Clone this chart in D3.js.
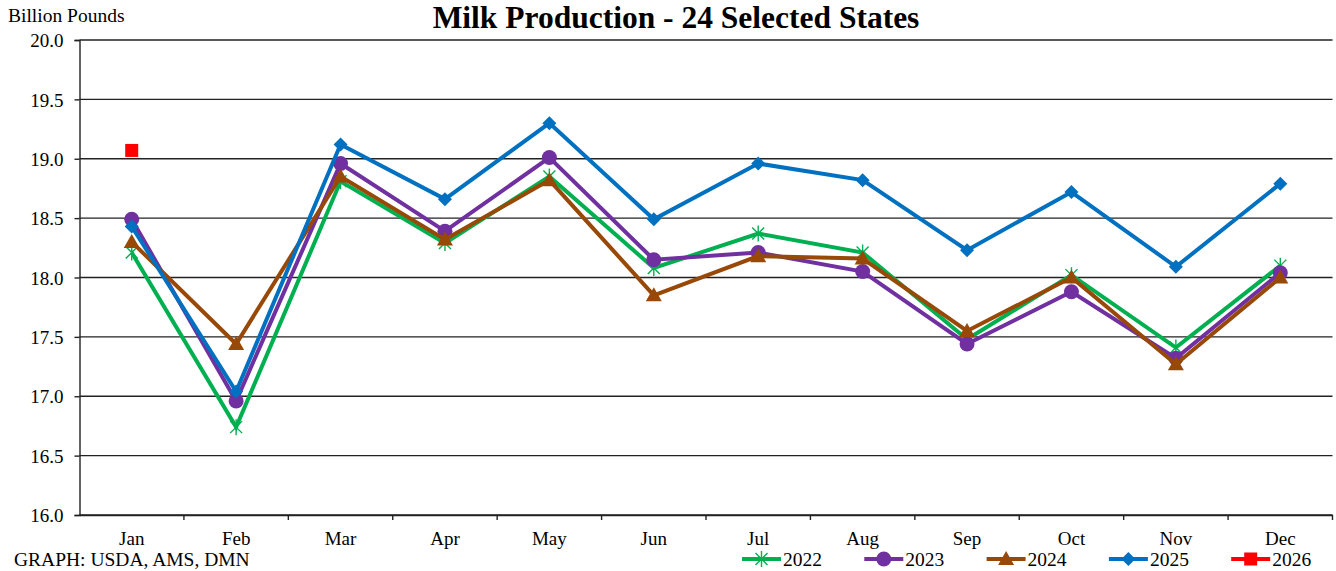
<!DOCTYPE html>
<html><head><meta charset="utf-8">
<script src="https://cdn.jsdelivr.net/npm/d3@7"></script>
<style>body{margin:0;background:#fff}svg{display:block}</style>
</head><body>
<svg id="c" width="1336" height="571"></svg>
<script>
const months = ["Jan","Feb","Mar","Apr","May","Jun","Jul","Aug","Sep","Oct","Nov","Dec"];
const yTicks = [16.0,16.5,17.0,17.5,18.0,18.5,19.0,19.5,20.0];
const v2022 = [18.21,16.74,18.81,18.29,18.85,18.08,18.37,18.21,17.48,18.02,17.41,18.10];
const v2023 = [18.49,16.96,18.96,18.39,19.01,18.15,18.21,18.05,17.44,17.88,17.32,18.04];
const v2024 = [18.30,17.44,18.85,18.32,18.82,17.85,18.18,18.16,17.55,18.00,17.27,18.00];
const v2025 = [18.43,17.04,19.12,18.66,19.30,18.49,18.96,18.82,18.23,18.72,18.09,18.79];
const v2026 = [19.07];

const series = [
  {name:"2022", values:v2022, color:"#00B050", marker:"star"},
  {name:"2023", values:v2023, color:"#7030A0", marker:"circle"},
  {name:"2024", values:v2024, color:"#984807", marker:"triangle"},
  {name:"2025", values:v2025, color:"#0070C0", marker:"diamond"},
  {name:"2026", values:v2026, color:"#FF0000", marker:"square"}
];

const svg = d3.select("#c");
const L=79.5, R=1332.5, T=40, B=515;
const x = d3.scaleBand().domain(months).range([L,R]);
const y = d3.scaleLinear().domain([16,20]).range([B,T]);
const font = "Liberation Serif, Times New Roman, serif";

// gridlines
svg.append("g").selectAll("line").data(yTicks).join("line")
  .attr("x1",L).attr("x2",R).attr("y1",d=>y(d)).attr("y2",d=>y(d))
  .attr("stroke","#222").attr("stroke-width",1.4);

// y axis
const ya = svg.append("g").attr("transform",`translate(${L},0)`)
  .call(d3.axisLeft(y).tickValues(yTicks).tickFormat(d3.format(".1f")).tickSize(5).tickPadding(11));
ya.attr("font-family",font).attr("font-size",19);
ya.select(".domain").attr("stroke","#222").attr("stroke-width",1.4);
ya.selectAll(".tick line").attr("stroke","#222").attr("stroke-width",1.4);
ya.selectAll("text").attr("fill","#000").attr("font-family",font).attr("dy","0.35em");

// x axis
const xa = svg.append("g").attr("transform",`translate(0,${B})`)
  .call(d3.axisBottom(x).tickSize(0).tickPadding(0));
xa.attr("font-family",font).attr("font-size",19);
xa.select(".domain").attr("stroke","#222").attr("stroke-width",1.4);
xa.selectAll("text").attr("fill","#000").attr("y",30).attr("dy",0);
// boundary tick marks
const bounds = months.map(m=>x(m)).concat([R]);
svg.append("g").selectAll("line").data(bounds.slice(1)).join("line")
  .attr("x1",d=>d).attr("x2",d=>d).attr("y1",B).attr("y2",B+5)
  .attr("stroke","#222").attr("stroke-width",1.4);

const cx = i => x(months[i]) + x.bandwidth()/2;

function drawMarker(g, type, px, py, color){
  if(type==="circle"){
    g.append("circle").attr("cx",px).attr("cy",py).attr("r",7.5).attr("fill",color);
  } else if(type==="triangle"){
    g.append("path").attr("d",`M0,-8L8,6L-8,6Z`).attr("transform",`translate(${px},${py})`).attr("fill",color);
  } else if(type==="diamond"){
    g.append("path").attr("d",`M0,-7L7,0L0,7L-7,0Z`).attr("transform",`translate(${px},${py})`).attr("fill",color);
  } else if(type==="square"){
    g.append("rect").attr("x",px-6.5).attr("y",py-6.5).attr("width",13).attr("height",13).attr("fill",color);
  } else if(type==="star"){
    const s=8;
    g.append("path").attr("d",`M${-s*0.75},${-s*0.75}L${s*0.75},${s*0.75}M${-s*0.75},${s*0.75}L${s*0.75},${-s*0.75}M0,${-s}L0,${s}`)
      .attr("transform",`translate(${px},${py})`).attr("stroke",color).attr("stroke-width",1.4).attr("fill","none");
  }
}

const line = d3.line().x((d,i)=>cx(i)).y(d=>y(d));
series.forEach(s=>{
  const g = svg.append("g");
  if(s.values.length>1){
    g.append("path").attr("d",line(s.values)).attr("fill","none")
      .attr("stroke",s.color).attr("stroke-width",4).attr("stroke-linejoin","miter");
  }
  s.values.forEach((v,i)=>drawMarker(g,s.marker,cx(i),y(v),s.color));
});

// title & labels
svg.append("text").attr("x",676).attr("y",28).attr("text-anchor","middle")
  .attr("font-family",font).attr("font-weight","bold").attr("font-size",31.5).text("Milk Production - 24 Selected States");
svg.append("text").attr("x",8).attr("y",22).attr("font-family",font).attr("font-size",19.5).text("Billion Pounds");
svg.append("text").attr("x",14).attr("y",566).attr("font-family",font).attr("font-size",19.5).text("GRAPH: USDA, AMS, DMN");

// legend
const lg = svg.append("g");
series.forEach((s,i)=>{
  const lx = 742 + i*122.3, ly = 559;
  lg.append("line").attr("x1",lx).attr("x2",lx+39).attr("y1",ly).attr("y2",ly).attr("stroke",s.color).attr("stroke-width",4);
  drawMarker(lg,s.marker,lx+19.5,ly,s.color);
  lg.append("text").attr("x",lx+41).attr("y",ly+6.5).attr("font-family",font).attr("font-size",19.5).text(s.name);
});
</script>
</body></html>
